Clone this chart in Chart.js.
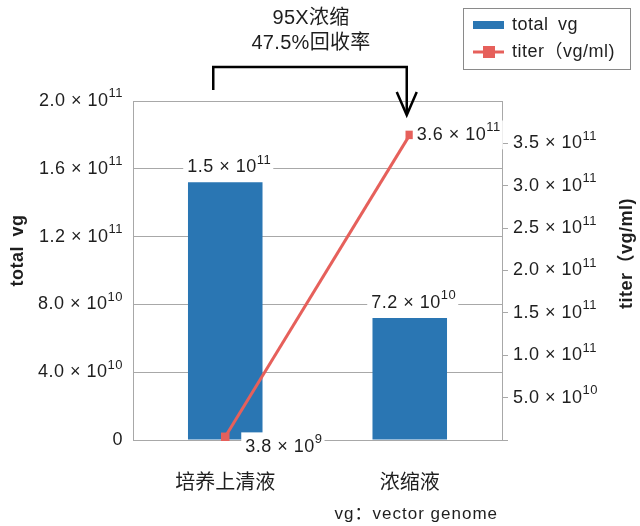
<!DOCTYPE html>
<html>
<head>
<meta charset="utf-8">
<script src="https://cdn.jsdelivr.net/npm/chart.js@4.4.1/dist/chart.umd.min.js"></script>
<style>
  html, body { margin: 0; padding: 0; background: #fff; }
  #wrap { width: 640px; height: 526px; }
</style>
</head>
<body>
<div id="wrap"><canvas id="chart" width="640" height="526"></canvas></div>
<script>
// data
const categories = ['培养上清液', '浓缩液'];
const totalVg = [1.52e11, 7.2e10];
const titer = [3.8e9, 3.6e11];
const leftTicks = [0, 4e10, 8e10, 1.2e11, 1.6e11, 2e11];
const rightTicks = [0, 5e10, 1e11, 1.5e11, 2e11, 2.5e11, 3e11, 3.5e11];
const seriesNames = ['total vg', 'titer（vg/ml)'];
const noteLines = ['95X浓缩', '47.5%回收率'];
const footnote = 'vg：vector genome';

const BLUE = '#2a76b3';
const RED = '#e6605b';
const GRID = '#a8a8a8';
const TEXT = '#1e1e1e';
const LATIN = '"Liberation Sans", Arial, "Noto Sans CJK SC", sans-serif';
const CJK = '"Noto Sans CJK SC", "Liberation Sans", sans-serif';

// "1.5×10" + superscript exponent
function sciParts(v) {
  if (v === 0) return ['0', ''];
  const e = Math.floor(Math.log10(v) + 1e-9);
  return [(v / Math.pow(10, e)).toFixed(1) + ' × 10', String(e)];
}

function drawSci(ctx, v, x, y, align, size, bg) {
  const [base, sup] = sciParts(v);
  const baseFont = size + 'px ' + LATIN;
  const supFont = Math.round(size * 0.72) + 'px ' + LATIN;
  ctx.letterSpacing = '0.5px';
  ctx.font = baseFont;
  const bw = ctx.measureText(base).width;
  ctx.font = supFont;
  const sw = sup ? ctx.measureText(sup).width : 0;
  const w = bw + sw;
  const x0 = align === 'right' ? x - w : align === 'center' ? x - w / 2 : x;
  if (bg) {
    ctx.fillStyle = '#fff';
    ctx.fillRect(x0 - 4, y - size * 0.8, w + 6, size * 1.6);
  }
  ctx.fillStyle = TEXT;
  ctx.textAlign = 'left';
  ctx.textBaseline = 'middle';
  ctx.font = baseFont;
  ctx.fillText(base, x0, y);
  if (sup) {
    ctx.font = supFont;
    ctx.fillText(sup, x0 + bw, y - size * 0.4);
  }
  ctx.letterSpacing = '0px';
}

const overlay = {
  id: 'overlay',
  // value labels sit under the axis borders but over bars and grid
  afterDatasetsDraw(chart) {
    const ctx = chart.ctx;
    ctx.save();
    const bars = chart.getDatasetMeta(0).data;
    bars.forEach((b, i) => drawSci(ctx, totalVg[i], b.x + 4, b.y - 15, 'center', 18, true));
    const pts = chart.getDatasetMeta(1).data;
    drawSci(ctx, titer[0], pts[0].x + 20, pts[0].y + 10, 'left', 18, true);
    drawSci(ctx, titer[1], pts[1].x + 7, pts[1].y, 'left', 18, true);
    ctx.restore();
  },
  afterDraw(chart) {
    const ctx = chart.ctx;
    const xs = chart.scales.x, yl = chart.scales.y, yr = chart.scales.y2;
    const area = chart.chartArea;
    ctx.save();

    // tick labels
    leftTicks.forEach(v => drawSci(ctx, v, area.left - 10, yl.getPixelForValue(v), 'right', 18));
    rightTicks.forEach(v => {
      if (v !== 0) drawSci(ctx, v, area.right + 11, yr.getPixelForValue(v), 'left', 18);
    });

    // axis titles
    ctx.fillStyle = TEXT;
    ctx.textAlign = 'center';
    ctx.textBaseline = 'middle';
    ctx.font = 'bold 18px ' + LATIN;
    ctx.letterSpacing = '0.5px';
    ctx.wordSpacing = '4px';
    ctx.save();
    ctx.translate(18, (area.top + area.bottom) / 2 - 20);
    ctx.rotate(-Math.PI / 2);
    ctx.fillText(seriesNames[0], 0, 0);
    ctx.restore();
    ctx.save();
    ctx.translate(627, (area.top + area.bottom) / 2 - 17);
    ctx.rotate(-Math.PI / 2);
    ctx.fillText(seriesNames[1], 0, 0);
    ctx.restore();

    // note above the plot
    ctx.font = '20px ' + LATIN;
    ctx.letterSpacing = '0.3px';
    ctx.wordSpacing = '0px';
    ctx.fillText(noteLines[0], 311, 18);
    ctx.fillText(noteLines[1], 311, 43);

    // bracket arrow from first to second category
    const bx0 = xs.getPixelForValue(0) - 12;
    const bx1 = xs.getPixelForValue(1) - 3;
    ctx.strokeStyle = '#000';
    ctx.lineWidth = 2.5;
    ctx.beginPath();
    ctx.moveTo(bx0, 90);
    ctx.lineTo(bx0, 67);
    ctx.lineTo(bx1, 67);
    ctx.lineTo(bx1, 114);
    ctx.stroke();
    ctx.beginPath();
    ctx.moveTo(bx1 - 10, 92);
    ctx.lineTo(bx1, 115);
    ctx.lineTo(bx1 + 10, 92);
    ctx.stroke();

    // legend
    ctx.strokeStyle = '#8a8a8a';
    ctx.lineWidth = 1;
    ctx.strokeRect(463.5, 8.5, 167, 61);
    ctx.fillStyle = BLUE;
    ctx.fillRect(473, 21, 31, 8);
    ctx.strokeStyle = RED;
    ctx.lineWidth = 3;
    ctx.beginPath();
    ctx.moveTo(473, 52);
    ctx.lineTo(504, 52);
    ctx.stroke();
    ctx.fillStyle = RED;
    ctx.fillRect(483, 46, 12, 12);
    ctx.fillStyle = TEXT;
    ctx.textAlign = 'left';
    ctx.font = '18px ' + LATIN;
    ctx.letterSpacing = '0.5px';
    ctx.wordSpacing = '4px';
    ctx.fillText(seriesNames[0], 512, 25);
    ctx.wordSpacing = '0px';
    ctx.fillText(seriesNames[1], 512, 52);

    // footnote
    ctx.textAlign = 'right';
    ctx.font = '17px ' + LATIN;
    ctx.letterSpacing = '1px';
    ctx.fillText(footnote, 498, 514);
    ctx.restore();
  }
};

new Chart(document.getElementById('chart'), {
  type: 'bar',
  data: {
    labels: categories,
    datasets: [
      {
        type: 'bar',
        label: seriesNames[0],
        data: totalVg,
        yAxisID: 'y',
        backgroundColor: BLUE,
        barPercentage: 0.404,
        categoryPercentage: 1,
        order: 2
      },
      {
        type: 'line',
        label: seriesNames[1],
        data: titer,
        yAxisID: 'y2',
        borderColor: RED,
        borderWidth: 3,
        pointStyle: 'rect',
        pointRadius: 6,
        pointBackgroundColor: RED,
        pointBorderWidth: 0,
        clip: false,
        order: 1
      }
    ]
  },
  options: {
    responsive: false,
    animation: false,
    layout: { padding: { top: 101, left: 0, right: 0, bottom: 0 } },
    plugins: { legend: { display: false }, tooltip: { enabled: false } },
    scales: {
      x: {
        grid: { display: false, drawTicks: false },
        border: { display: false },
        ticks: { color: TEXT, font: { family: CJK, size: 20 }, padding: 29 },
        afterFit: s => { s.height = 86; }
      },
      y: {
        position: 'left',
        min: 0,
        max: 2e11,
        afterBuildTicks: s => { s.ticks = leftTicks.map(v => ({ value: v })); },
        ticks: { display: false },
        grid: { color: GRID, drawTicks: false },
        border: { display: true, color: GRID },
        afterFit: s => { s.width = 133; }
      },
      y2: {
        position: 'right',
        min: 0,
        max: 4e11,
        afterBuildTicks: s => { s.ticks = rightTicks.map(v => ({ value: v })); },
        ticks: { display: false },
        grid: { drawOnChartArea: false, drawTicks: true, tickLength: 6, color: GRID },
        border: { display: true, color: GRID },
        afterFit: s => { s.width = 138; }
      }
    }
  },
  plugins: [overlay]
});
</script>
</body>
</html>
